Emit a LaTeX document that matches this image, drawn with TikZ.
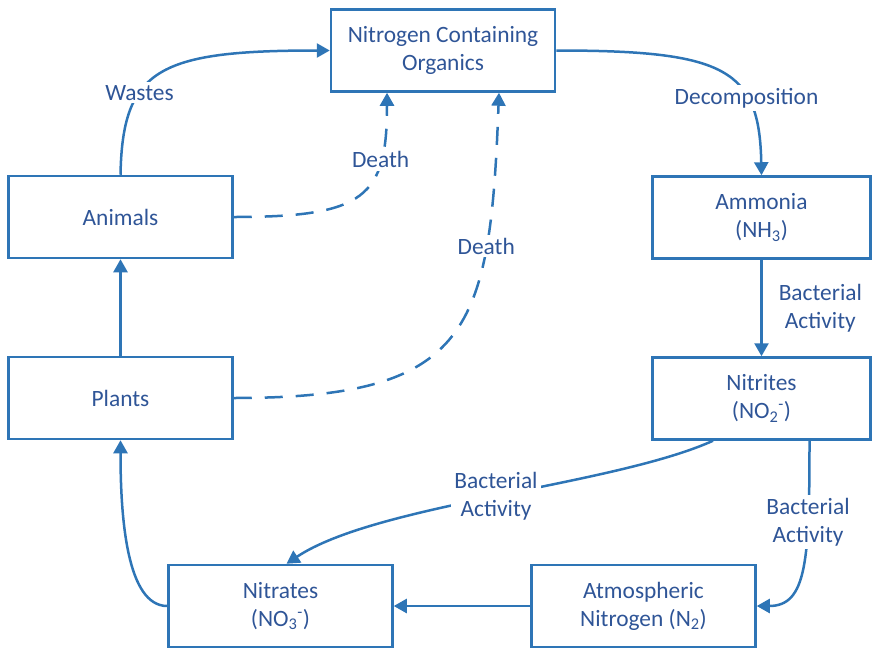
\documentclass[tikz,border=0pt]{standalone}
\usepackage{fontspec}
\setmainfont{Carlito}
\usetikzlibrary{arrows.meta,positioning}
\definecolor{cyclelinec}{RGB}{46,117,182}
\definecolor{cycletextc}{RGB}{47,85,151}
\tikzset{
  stagebox/.style={draw=cyclelinec, text=cycletextc, line width=2.5pt, minimum width=224pt, minimum height=82pt, inner sep=0pt, align=center},
  flowlabel/.style={text=cycletextc, fill=white, inner sep=3pt, align=center},
  deathline/.style={dash pattern=on 18pt off 13pt}
}
\begin{document}
\begin{tikzpicture}[x=1pt, y=-1pt, >={Triangle[length=13pt,width=14pt]}, line width=2.5pt, color=cyclelinec, font=\fontsize{23.4}{28}\selectfont]
\useasboundingbox (0,0) rectangle (873,648);
\node[stagebox] (organics) at (443,50.5) {Nitrogen Containing\\Organics};
\node[stagebox] (animals) at (120.5,217) {Animals};
\node[stagebox] (plants) at (120.5,398) {Plants};
\node[stagebox, minimum width=218pt] (ammonia) at (761.5,217.5) {Ammonia\\(NH\textsubscript{3})};
\node[stagebox, minimum width=218pt] (nitrites) at (761.5,398.5) {Nitrites\\(NO\textsubscript{2}\textsuperscript{-})};
\node[stagebox] (nitrates) at (280.5,606) {Nitrates\\(NO\textsubscript{3}\textsuperscript{-})};
\node[stagebox] (atmos) at (643.5,606) {Atmospheric\\Nitrogen (N\textsubscript{2})};

\draw[->] (animals.north) .. controls +(2,-106) and +(-171,0) .. node[flowlabel, pos=0.35] {Wastes} (organics.west);
\draw[->] (organics.east) .. controls +(170,0) and +(-2,-106) .. node[flowlabel, pos=0.68] {Decomposition} (ammonia.north);
\draw[->] (ammonia.south) -- node[right=16pt, text=cycletextc, align=center, inner sep=0pt] {Bacterial\\Activity} (nitrites.north);
\draw[->] ([xshift=-48.5pt]nitrites.south) .. controls +(-100,45) and +(90,-60) .. node[flowlabel, pos=0.5] {Bacterial\\Activity} ([xshift=6pt]nitrates.north);
\draw[->] ([xshift=48pt]nitrites.south) .. controls +(0,120) and +(50,0) .. node[flowlabel, pos=0.27] {Bacterial\\Activity} (atmos.east);
\draw[->] (atmos.west) -- (nitrates.east);
\draw[->] (nitrates.west) .. controls +(-40,0) and +(0,80) .. (plants.south);
\draw[->] (plants.north) -- (animals.south);
\draw[->, deathline] (animals.east) .. controls +(132,0) and +(0,104) .. node[flowlabel, pos=0.73] {Death} ([xshift=-56pt]organics.south);
\draw[->, deathline] (plants.east) .. controls +(237,0) and +(-9,239) .. node[flowlabel, pos=0.74] {Death} ([xshift=56pt]organics.south);
\end{tikzpicture}
\end{document}
